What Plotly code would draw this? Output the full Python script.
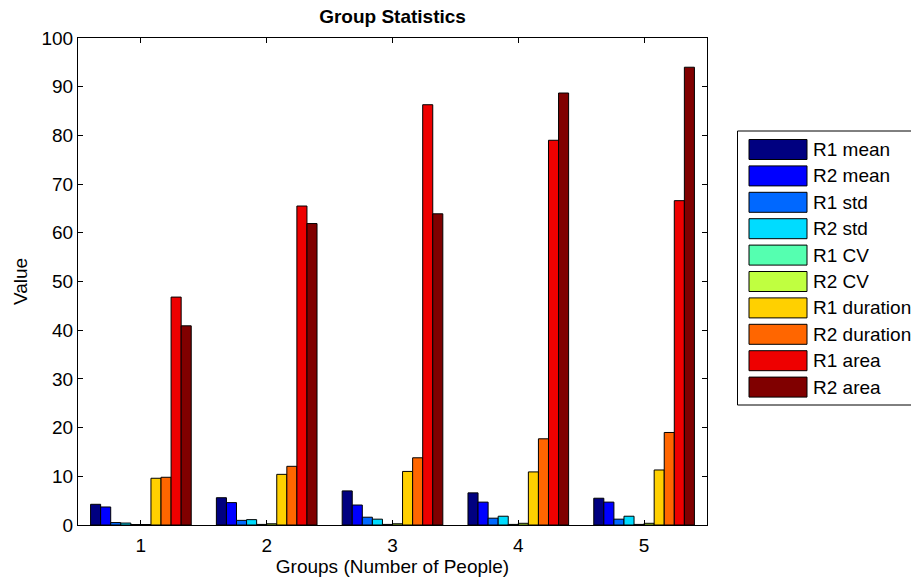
import plotly.graph_objects as go

groups = [1, 2, 3, 4, 5]
series_names = ["R1 mean", "R2 mean", "R1 std", "R2 std", "R1 CV", "R2 CV",
                "R1 duration", "R2 duration", "R1 area", "R2 area"]
r1_mean = [4.25, 5.6, 7.0, 6.6, 5.5]
r2_mean = [3.7, 4.6, 4.1, 4.7, 4.7]
r1_std = [0.5, 0.95, 1.6, 1.4, 1.2]
r2_std = [0.4, 1.1, 1.2, 1.8, 1.8]
r1_cv = [0.1, 0.12, 0.12, 0.12, 0.12]
r2_cv = [0.1, 0.25, 0.25, 0.35, 0.35]
r1_duration = [9.6, 10.4, 11.0, 10.9, 11.3]
r2_duration = [9.8, 12.05, 13.8, 17.7, 19.0]
r1_area = [46.8, 65.5, 86.3, 79.0, 66.6]
r2_area = [40.9, 61.9, 63.9, 88.7, 94.0]
colors = ["#000080", "#0000FF", "#0068FF", "#00DCFF", "#55FFB0",
          "#C0FF40", "#FFD000", "#FF6600", "#EE0000", "#800000"]

series_values = [r1_mean, r2_mean, r1_std, r2_std, r1_cv, r2_cv,
                 r1_duration, r2_duration, r1_area, r2_area]

FONT = "Liberation Sans, Arial, Helvetica, sans-serif"
FS = 19

W, H = 911, 577
# plot area in window pixels
PX0, PX1, PY0, PY1 = 78, 707, 38, 525
L, R, T, B = PX0, W - PX1, PY0, H - PY1
PW, PH = PX1 - PX0, PY1 - PY0


def px2x(px):
    return (px - PX0) / PW


def px2y(py):
    return (PY1 - py) / PH


fig = go.Figure()
for name, vals, col in zip(series_names, series_values, colors):
    fig.add_trace(go.Bar(
        x=groups, y=vals, name=name,
        marker=dict(color=col, line=dict(color="black", width=1)),
        showlegend=False,
    ))

# Custom legend (large swatches like the reference)
shapes = [dict(type="rect", xref="paper", yref="paper",
               x0=px2x(737.5), x1=px2x(930), y0=px2y(405), y1=px2y(131),
               line=dict(color="black", width=1), fillcolor="white", layer="above")]
annotations = []
for i, (name, col) in enumerate(zip(series_names, colors)):
    cy = 149.5 + i * 26.4
    shapes.append(dict(type="rect", xref="paper", yref="paper",
                       x0=px2x(749), x1=px2x(807), y0=px2y(cy + 10), y1=px2y(cy - 10),
                       line=dict(color="black", width=1), fillcolor=col, layer="above"))
    annotations.append(dict(xref="paper", yref="paper", x=px2x(811), y=px2y(cy),
                            text=name, showarrow=False, xanchor="left", yanchor="middle",
                            font=dict(family=FONT, size=FS, color="black")))

fig.update_layout(
    width=W, height=H,
    margin=dict(l=L, r=R, t=T, b=B, pad=0, autoexpand=False),
    paper_bgcolor="white", plot_bgcolor="white",
    barmode="group", bargap=0.2, bargroupgap=0.0,
    font=dict(family=FONT, size=FS, color="black"),
    title=dict(text="<b>Group Statistics</b>", x=0.5, xref="paper",
               y=1 - 16 / H, yref="container", yanchor="middle",
               font=dict(family=FONT, size=FS, color="black")),
    shapes=shapes, annotations=annotations,
    showlegend=False,
)
fig.update_xaxes(
    range=[0.5, 5.5], tickvals=groups, ticktext=[str(g) for g in groups],
    showline=True, linecolor="black", linewidth=1, mirror="ticks",
    ticks="inside", ticklen=5, tickcolor="black", tickwidth=1,
    showgrid=False, zeroline=False, ticklabelstandoff=3,
    title=dict(text="Groups (Number of People)", standoff=1,
               font=dict(family=FONT, size=FS)),
)
fig.update_yaxes(
    range=[0, 100], tickvals=list(range(0, 101, 10)),
    showline=True, linecolor="black", linewidth=1, mirror="ticks",
    ticks="inside", ticklen=5, tickcolor="black", tickwidth=1,
    showgrid=False, zeroline=False, ticklabelstandoff=0,
    title=dict(text="Value", standoff=8, font=dict(family=FONT, size=FS)),
)

# remove the browser's default 8px body margin so the figure fills the window
fig.write_html("out.html",
               config={"displayModeBar": False, "staticPlot": True},
               post_script="document.body.style.margin='0';document.body.style.overflow='hidden';")
